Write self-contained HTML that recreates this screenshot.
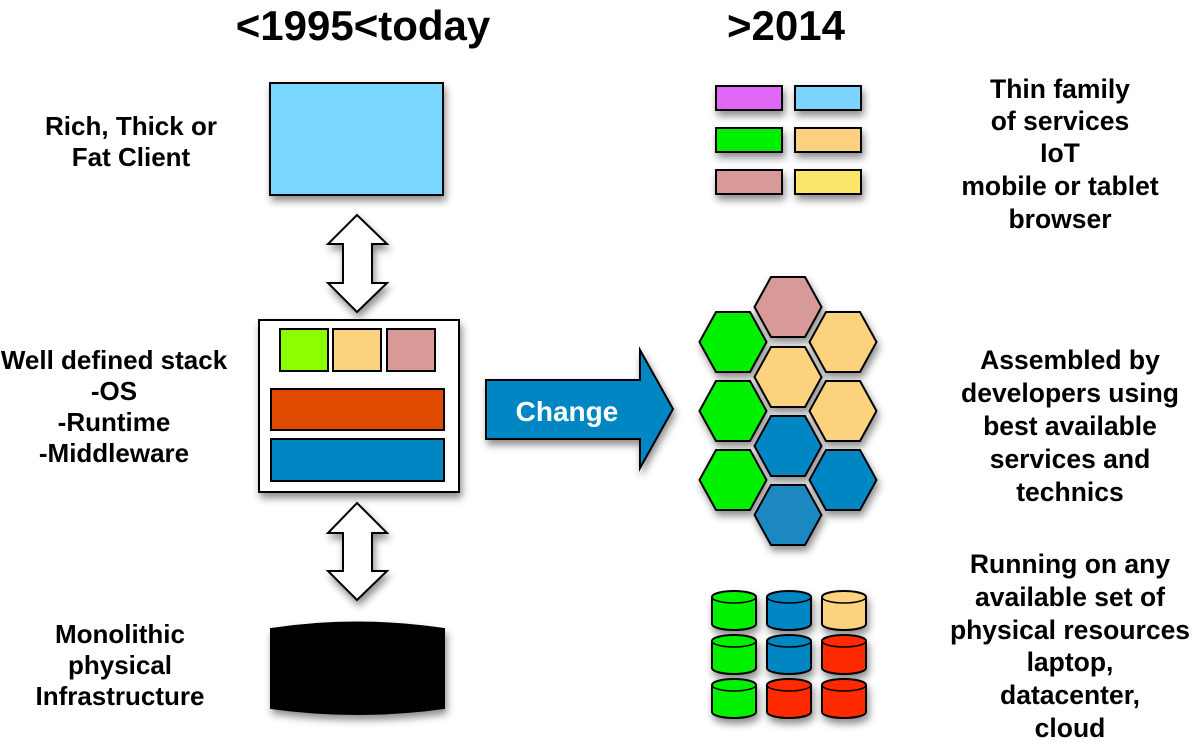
<!DOCTYPE html>
<html><head><style>
body{margin:0;width:1197px;height:744px;background:#fff;overflow:hidden}
svg text{font-family:"Liberation Sans",sans-serif;font-weight:bold;fill:#000}
</style></head><body>
<svg width="1197" height="744" viewBox="0 0 1197 744">
<defs>
<filter id="sh" x="-20%" y="-20%" width="150%" height="150%"><feDropShadow dx="2" dy="5" stdDeviation="4" flood-color="#000" flood-opacity="0.45"/></filter>
<polygon id="hx" points="-33.5,0 -17,-30 17,-30 33.5,0 17,30 -17,30"/>
</defs>
<text x="363" y="40" font-size="42" text-anchor="middle">&lt;1995&lt;today</text>
<text x="786" y="40" font-size="42" text-anchor="middle">&gt;2014</text>
<g font-size="26" text-anchor="middle">
<text x="131" y="135">Rich, Thick or</text><text x="131" y="166">Fat Client</text>
<text x="114" y="369">Well defined stack</text><text x="114" y="400">-OS</text><text x="114" y="431">-Runtime</text><text x="114" y="462">-Middleware</text>
<text x="120" y="643">Monolithic</text><text x="120" y="674">physical</text><text x="120" y="705">Infrastructure</text>
</g>
<g font-size="26.5" text-anchor="middle">
<text x="1060" y="98">Thin family</text><text x="1060" y="130">of services</text><text x="1060" y="162">IoT</text><text x="1060" y="195">mobile or tablet</text><text x="1060" y="228">browser</text>
<text x="1070" y="369">Assembled by</text><text x="1070" y="402">developers using</text><text x="1070" y="435">best available</text><text x="1070" y="468">services and</text><text x="1070" y="501">technics</text>
<text x="1070" y="573">Running on any</text><text x="1070" y="606">available set of</text><text x="1070" y="639">physical resources</text><text x="1070" y="671">laptop,</text><text x="1070" y="704">datacenter,</text><text x="1070" y="737">cloud</text>
</g>
<g stroke="#000" stroke-width="2" filter="url(#sh)">
<rect x="270" y="83" width="173" height="112" fill="#79d6fe"/>
<polygon points="357,215 387,244 372,244 372,283 387,283 357,312 328,283 343,283 343,244 328,244" fill="#fff"/>
<rect x="259" y="320" width="200" height="172" fill="#fff"/>
<polygon points="357,503 387,533 372,533 372,571 387,571 357,600 328,571 343,571 343,533 328,533" fill="#fff"/>
<polygon points="486,380 640,380 640,350 673,409 640,468 640,439 486,439" fill="#0286c3"/>
<path d="M271,629 Q357,616 444,629 L444,708 Q357,720 271,708 Z" fill="#000"/>
</g>
<g stroke="#000" stroke-width="2">
<rect x="280" y="329" width="48" height="42" fill="#8cff00"/>
<rect x="333" y="329" width="48" height="42" fill="#fdd27f"/>
<rect x="387" y="329" width="48" height="42" fill="#d79a98"/>
<rect x="271" y="389" width="173" height="41" fill="#e04a00"/>
<rect x="271" y="439" width="173" height="42" fill="#0286c3"/>
</g>
<text x="567" y="421" font-size="28" text-anchor="middle" style="fill:#fff">Change</text>
<g stroke="#000" stroke-width="2" filter="url(#sh)">
<rect x="716" y="86" width="66" height="24" fill="#e066f5"/><rect x="795" y="86" width="66" height="24" fill="#7bd4fd"/>
<rect x="716" y="128" width="66" height="24" fill="#00f000"/><rect x="795" y="128" width="66" height="24" fill="#fdd27f"/>
<rect x="716" y="170" width="66" height="24" fill="#d79a98"/><rect x="795" y="170" width="66" height="24" fill="#fbe66a"/>
<use href="#hx" x="788" y="307" fill="#d79a98"/>
<use href="#hx" x="733" y="342" fill="#00f000"/><use href="#hx" x="843" y="342" fill="#fdd27f"/>
<use href="#hx" x="788" y="377" fill="#fdd27f"/>
<use href="#hx" x="733" y="411" fill="#00f000"/><use href="#hx" x="843" y="411" fill="#fdd27f"/>
<use href="#hx" x="788" y="446" fill="#0286c3"/>
<use href="#hx" x="733" y="480" fill="#00f000"/><use href="#hx" x="843" y="480" fill="#0286c3"/>
<use href="#hx" x="788" y="515" fill="#1a88c2"/>
</g>
<g stroke="#000" stroke-width="2" filter="url(#sh)">
<path d="M712,597 a22,6 0 0 1 44,0 v27 a22,6 0 0 1 -44,0z" fill="#00f000"/>
<path d="M767,597 a22,6 0 0 1 44,0 v27 a22,6 0 0 1 -44,0z" fill="#0286c3"/>
<path d="M822,597 a22,6 0 0 1 44,0 v27 a22,6 0 0 1 -44,0z" fill="#fdd27f"/>
<path d="M712,641 a22,6 0 0 1 44,0 v27 a22,6 0 0 1 -44,0z" fill="#00f000"/>
<path d="M767,641 a22,6 0 0 1 44,0 v27 a22,6 0 0 1 -44,0z" fill="#0286c3"/>
<path d="M822,641 a22,6 0 0 1 44,0 v27 a22,6 0 0 1 -44,0z" fill="#ff2a00"/>
<path d="M712,685 a22,6 0 0 1 44,0 v27 a22,6 0 0 1 -44,0z" fill="#00f000"/>
<path d="M767,685 a22,6 0 0 1 44,0 v27 a22,6 0 0 1 -44,0z" fill="#ff2a00"/>
<path d="M822,685 a22,6 0 0 1 44,0 v27 a22,6 0 0 1 -44,0z" fill="#ff2a00"/>
</g>
<g stroke="#000" stroke-width="1.5" fill="none">
<path d="M712,597 a22,6 0 0 0 44,0 M767,597 a22,6 0 0 0 44,0 M822,597 a22,6 0 0 0 44,0 M712,641 a22,6 0 0 0 44,0 M767,641 a22,6 0 0 0 44,0 M822,641 a22,6 0 0 0 44,0 M712,685 a22,6 0 0 0 44,0 M767,685 a22,6 0 0 0 44,0 M822,685 a22,6 0 0 0 44,0"/>
</g>
</svg>
</body></html>
